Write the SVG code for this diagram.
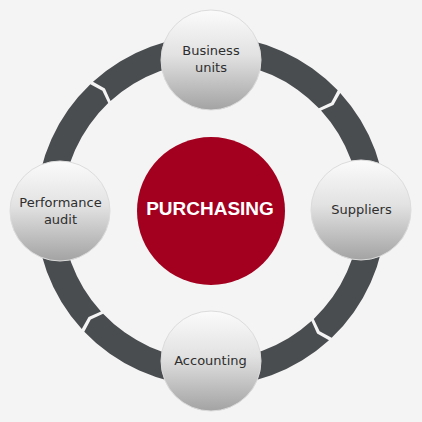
<svg xmlns="http://www.w3.org/2000/svg" width="422" height="422" viewBox="0 0 422 422">
  <defs>
    <linearGradient id="nodeGrad" x1="0" y1="0" x2="0" y2="1">
      <stop offset="0" stop-color="#fbfbfb"/>
      <stop offset="0.45" stop-color="#e2e2e2"/>
      <stop offset="1" stop-color="#a3a3a3"/>
    </linearGradient>
    <style>
      .seg { fill: #4a4d50; }
      .node { fill: url(#nodeGrad); stroke: #dcdcdc; stroke-width: 1; }
      .label { font-family: "DejaVu Sans", "Liberation Sans", sans-serif; font-size: 13px; fill: #2e2e2e; text-anchor: middle; }
      .hub { fill: #a3001f; }
      .hubLabel { font-family: "Liberation Sans", Arial, sans-serif; font-size: 19px; font-weight: bold; fill: #ffffff; text-anchor: middle; }
    </style>
  </defs>
  <rect x="0" y="0" width="422" height="422" fill="#f4f4f4"/>
  <g id="connectors">
    <path class="seg" d="M340.23,93.00 A175,175 0 0 1 331.68,337.73 L319.61,331.20 L313.75,318.90 A149,149 0 0 0 321.03,110.53 L333.45,104.93 Z"/>
    <path class="seg" d="M329.00,340.23 A175,175 0 0 1 84.27,331.68 L90.80,319.61 L103.10,313.75 A149,149 0 0 0 311.47,321.03 L317.07,333.45 Z"/>
    <path class="seg" d="M81.77,329.00 A175,175 0 0 1 90.32,84.27 L102.39,90.80 L108.25,103.10 A149,149 0 0 0 100.97,311.47 L88.55,317.07 Z"/>
    <path class="seg" d="M93.00,81.77 A175,175 0 0 1 337.73,90.32 L331.20,102.39 L318.90,108.25 A149,149 0 0 0 110.53,100.97 L104.93,88.55 Z"/>
  </g>
  <g id="purchasing">
    <circle class="hub" cx="211" cy="211" r="74"/>
    <text class="hubLabel" x="210" y="215">PURCHASING</text>
  </g>
  <g id="business-units">
    <circle class="node" cx="211" cy="60" r="50"/>
    <text class="label" x="211" y="54.5">Business</text>
    <text class="label" x="211" y="71.5">units</text>
  </g>
  <g id="suppliers">
    <circle class="node" cx="361" cy="210" r="50"/>
    <text class="label" x="361.5" y="214">Suppliers</text>
  </g>
  <g id="accounting">
    <circle class="node" cx="211" cy="361" r="50"/>
    <text class="label" x="210.5" y="365">Accounting</text>
  </g>
  <g id="performance-audit">
    <circle class="node" cx="60" cy="211" r="50"/>
    <text class="label" x="60.5" y="207">Performance</text>
    <text class="label" x="60.5" y="224">audit</text>
  </g>
</svg>
